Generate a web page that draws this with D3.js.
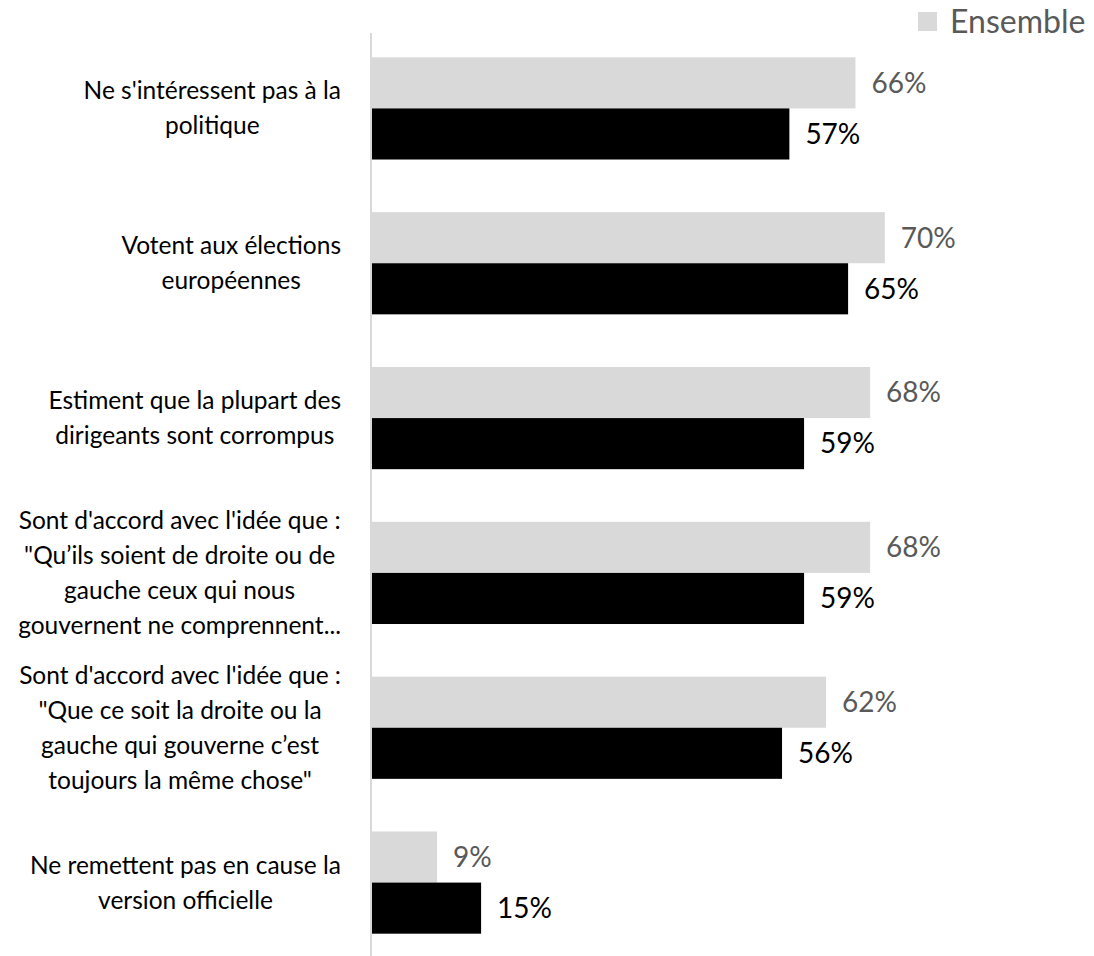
<!DOCTYPE html>
<html><head><meta charset="utf-8">
<script src="https://cdn.jsdelivr.net/npm/d3@7"></script>
<style>body{margin:0;background:#fff}svg{display:block}text{font-family:Lato,"Noto Sans",sans-serif}</style>
</head><body>
<script>
const categories = [
  ["Ne s'intéressent pas à la", "politique"],
  ["Votent aux élections", "européennes"],
  ["Estiment que la plupart des", "dirigeants sont corrompus"],
  ["Sont d'accord avec l'idée que :", "\"Qu’ils soient de droite ou de", "gauche ceux qui nous", "gouvernent ne comprennent..."],
  ["Sont d'accord avec l'idée que :", "\"Que ce soit la droite ou la", "gauche qui gouverne c’est", "toujours la même chose\""],
  ["Ne remettent pas en cause la", "version officielle"]
];
const seriesNames = ["Ensemble", "Sous-groupe"];
const ensemble = [66, 70, 68, 68, 62, 9];
const sousGroupe = [57, 65, 59, 59, 56, 15];
const colors = ["#d9d9d9", "#000000"];
const labelColors = ["#595959", "#000000"];

const W = 1094, H = 956;
const svg = d3.select("body").append("svg").attr("width", W).attr("height", H);
const idx = d3.range(categories.length);
const y = d3.scaleBand().domain(idx).range([31, 960]).paddingInner(0.34).paddingOuter(0.17);
const x = d3.scaleLinear().domain([0, 100]).range([371, 371 + 734]);
const y1 = d3.scaleBand().domain([0, 1]).range([0, y.bandwidth()]);

const series = [ensemble, sousGroupe];
series.forEach((vals, s) => {
  const g = svg.append("g");
  g.selectAll("rect").data(idx).join("rect")
    .attr("x", x(0)).attr("y", i => y(i) + y1(s))
    .attr("width", i => x(vals[i]) - x(0)).attr("height", y1.bandwidth())
    .attr("fill", colors[s]);
  g.selectAll("text").data(idx).join("text")
    .attr("x", i => x(vals[i]) + 16).attr("y", i => y(i) + y1(s) + y1.bandwidth() / 2)
    .attr("dy", "0.35em").attr("font-size", 28).attr("fill", labelColors[s])
    .text(i => vals[i] + "%");
});

// axis line
svg.append("g").attr("transform", `translate(${x(0)},0)`)
  .call(d3.axisLeft(y).tickSize(0).tickFormat(""))
  .call(g => g.select(".domain").attr("stroke", "#d9d9d9").attr("stroke-width", 2).attr("d", `M0,33V956`));

// category labels
const lh = 35, rightEdge = 341;
idx.forEach(i => {
  const lines = categories[i];
  const t = svg.append("text").attr("font-size", 24.5).attr("fill", "#000").attr("text-anchor", "middle");
  const n = lines.length;
  const cy = y(i) + y.bandwidth() / 2;
  lines.forEach((l, k) => {
    t.append("tspan").attr("x", 0).attr("y", cy + (k - (n - 1) / 2) * lh).attr("dy", "0.35em").text(l);
  });
  const w = t.node().getBBox().width;
  t.selectAll("tspan").attr("x", rightEdge - w / 2);
});

// legend
const lg = svg.append("g");
lg.append("rect").attr("x", 918).attr("y", 12).attr("width", 19).attr("height", 19).attr("fill", colors[0]);
lg.append("text").attr("x", 950).attr("y", 22).attr("dy", "0.35em").attr("font-size", 32).attr("fill", "#595959").text(seriesNames[0]);
</script>
</body></html>
